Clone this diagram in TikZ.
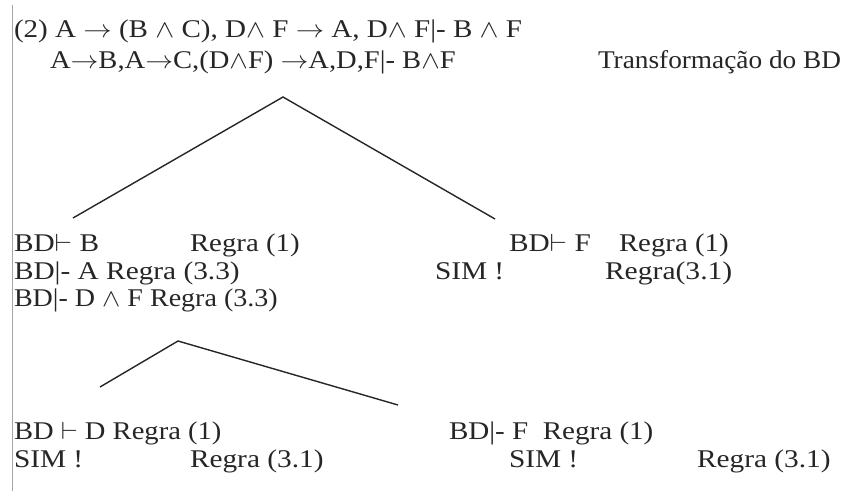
\documentclass[tikz,border=0pt]{standalone}
\usepackage{fontspec}
\usepackage{graphicx}
\setmainfont{Liberation Serif}
\newcommand{\stx}[2][1.15]{\scalebox{#1}[1]{#2}}
\begin{document}
\begin{tikzpicture}[x=1pt,y=-1pt,
  txt/.style={anchor=base west,inner sep=0pt,outer sep=0pt,text=black!85,font=\fontsize{25.5}{28}\selectfont},
  branch/.style={draw=black!85,line width=1.4pt},
  margin/.style={draw=black!35,line width=1pt}]
\useasboundingbox (0,0) rectangle (859,491);
% left margin rule
\coordinate (m1) at (12,5);
\coordinate (m2) at (12,491);
\draw[margin] (m1) -- (m2);
% header lines
\node[txt] (l1) at (14,37) {\stx[1.14]{(2) A $\rightarrow$ (B $\wedge$ C), D$\wedge$ F $\rightarrow$ A, D$\wedge$ F|- B $\wedge$ F}};
\node[txt] (l2) at (50,68) {\stx[1.12]{A$\rightarrow$B,A$\rightarrow$C,(D$\wedge$F) $\rightarrow$A,D,F|- B$\wedge$F}};
\node[txt] (tr) at (598,68) {\stx[1.07]{Transformação do BD}};
% top tree
\coordinate (a1) at (283,97);
\coordinate (a1l) at (73,218);
\coordinate (a1r) at (495,219);
\draw[branch] (a1l) -- (a1) -- (a1r);
% left branch texts
\node[txt] (r1a) at (14,251) {\stx{BD$\vdash$ B}};
\node[txt] (r1b) at (190,251) {\stx[1.13]{Regra (1)}};
\node[txt] (r2a) at (14,279) {\stx{BD|- A Regra (3.3)}};
\node[txt] (r3a) at (14,306) {\stx[1.1]{BD|- D $\wedge$ F Regra (3.3)}};
% right branch texts
\node[txt] (r1c) at (509,251) {\stx{BD$\vdash$ F}};
\node[txt] (r1d) at (619,251) {\stx[1.13]{Regra (1)}};
\node[txt] (r2c) at (435,279) {\stx{SIM !}};
\node[txt] (r2d) at (605,279) {\stx[1.16]{Regra(3.1)}};
% bottom tree
\coordinate (a2) at (178,341);
\coordinate (a2l) at (100,387);
\coordinate (a2r) at (398,405);
\draw[branch] (a2l) -- (a2) -- (a2r);
\node[txt] (r4a) at (14,439) {\stx[1.12]{BD $\vdash$ D Regra (1)}};
\node[txt] (r4b) at (449,439) {\stx[1.14]{BD|- F\ \ Regra (1)}};
\node[txt] (r5a) at (14,467) {\stx{SIM !}};
\node[txt] (r5b) at (190,467) {\stx{Regra (3.1)}};
\node[txt] (r5c) at (509,467) {\stx{SIM !}};
\node[txt] (r5d) at (697,467) {\stx{Regra (3.1)}};
\end{tikzpicture}
\end{document}
